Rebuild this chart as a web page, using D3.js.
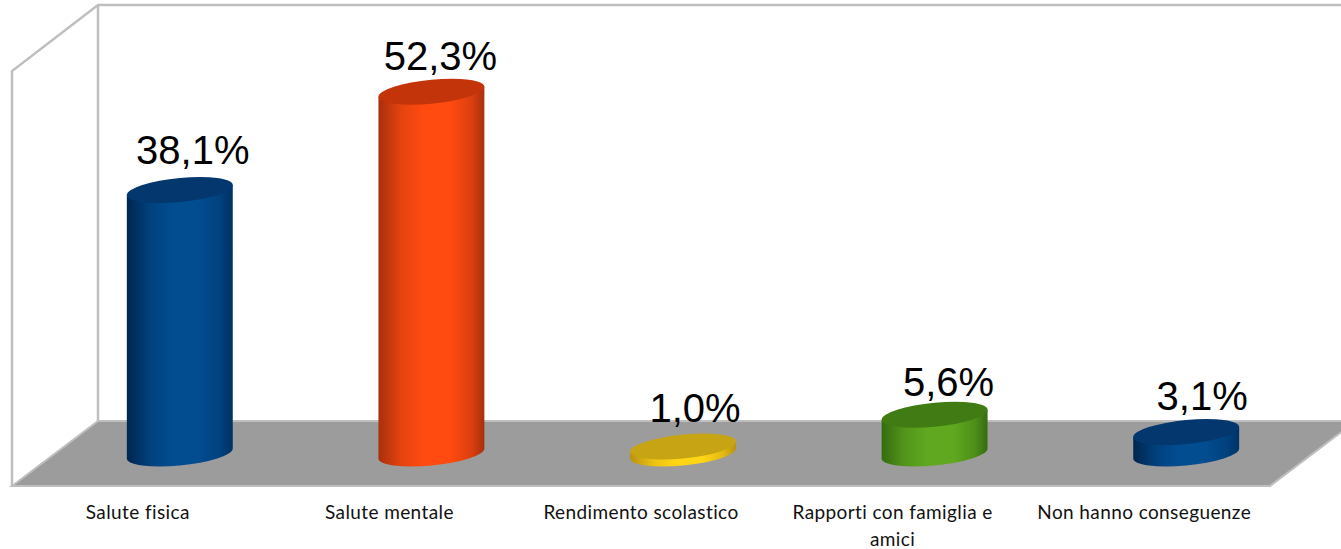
<!DOCTYPE html>
<html>
<head>
<meta charset="utf-8">
<script src="https://cdn.jsdelivr.net/npm/d3@7"></script>
<style>
  html, body { margin: 0; padding: 0; background: #fff; overflow: hidden; }
</style>
</head>
<body>
<div id="chart"></div>
<script>
const categories = ["Salute fisica", "Salute mentale", "Rendimento scolastico", "Rapporti con famiglia e amici", "Non hanno conseguenze"];
const values = [38.1, 52.3, 1.0, 5.6, 3.1];
const colorNames = ["blue", "red", "yellow", "green", "blue2"];

const palette = {
  blue: { edgeL: "#00264f", mid: "#024c90", edgeR: "#003264", top: "#03376d" },
  red: { edgeL: "#a8300c", mid: "#ff4a10", edgeR: "#a8300c", top: "#c3340b" },
  yellow: { edgeL: "#b8920f", mid: "#ffd516", edgeR: "#b8920f", top: "#c6a414" },
  green: { edgeL: "#356b10", mid: "#5fa81f", edgeR: "#356b10", top: "#417b14" },
  blue2: { edgeL: "#00264f", mid: "#024c90", edgeR: "#003264", top: "#03376d" }
};

// hand nudges for the value labels, the original placed them a bit unevenly
const labelDx = [13, 9, 12, 14, 16];
const labelDy = [-26, -22, -25, -19, -22];

function renderCylinderChart(containerSelector) {
  const width = 1341;
  const height = 549;

  // box corners of the fake 3d plot
  const front = { left: 12, right: 1270, top: 71, bottom: 486 };
  const depth = { x: 86, y: 66 };
  const wallColor = "#bfbfbf";

  const svg = d3.select(containerSelector)
    .append("svg")
    .attr("width", width)
    .attr("height", height)
    .style("display", "block");

  const xFront = d3.scaleBand()
    .domain(categories)
    .range([front.left, front.right])
    .paddingInner(0.579)
    .paddingOuter(0.2895);

  const floorY = front.bottom - depth.y / 2 + 0.5;
  const y = d3.scaleLinear().domain([0, 60]).range([floorY, floorY - 415]);

  const defs = svg.append("defs");
  colorNames.forEach(name => {
    const c = palette[name];
    const grad = defs.append("linearGradient").attr("id", "grad-" + name);
    grad.append("stop").attr("offset", "0%").attr("stop-color", c.edgeL);
    grad.append("stop").attr("offset", "22%").attr("stop-color", d3.interpolateLab(c.edgeL, c.mid)(0.72));
    grad.append("stop").attr("offset", "42%").attr("stop-color", c.mid);
    grad.append("stop").attr("offset", "68%").attr("stop-color", c.mid);
    grad.append("stop").attr("offset", "88%").attr("stop-color", d3.interpolateLab(c.edgeR, c.mid)(0.6));
    grad.append("stop").attr("offset", "100%").attr("stop-color", c.edgeR);
  });

  // walls
  const backLeft = front.left + depth.x;
  const backRight = front.right + depth.x;
  const backTop = front.top - depth.y;
  const backBottom = front.bottom - depth.y + 1;

  svg.append("path")
    .attr("d", `M${front.left},${front.bottom} V${front.top} L${backLeft},${backTop} H${backRight + 10}`)
    .attr("fill", "none")
    .attr("stroke", wallColor)
    .attr("stroke-width", 2.5);

  svg.append("line")
    .attr("x1", backLeft).attr("x2", backLeft)
    .attr("y1", backTop).attr("y2", backBottom)
    .attr("stroke", wallColor)
    .attr("stroke-width", 2.5);

  // floor
  svg.append("path")
    .attr("d", `M${front.left},${front.bottom} L${backLeft},${backBottom} H${backRight} L${front.right},${front.bottom} Z`)
    .attr("fill", "#9c9c9c")
    .attr("stroke", wallColor)
    .attr("stroke-width", 2);

  // cylinders, sheared a bit so the ellipses tilt up to the right
  const rx = xFront.bandwidth() / 2;
  const ry = 12;
  const tilt = Math.atan(5 / rx) * 180 / Math.PI;
  const barCenter = i => xFront(categories[i]) + rx + depth.x / 2 - 1;

  const bars = svg.selectAll(".bar")
    .data(values)
    .enter()
    .append("g")
    .attr("class", "bar")
    .attr("transform", (d, i) => `translate(${barCenter(i)},0) skewY(${-tilt})`);

  bars.append("path")
    .attr("d", d => `M${-rx},${y(d)} V${y(0)} A${rx},${ry} 0 0 0 ${rx},${y(0)} V${y(d)} Z`)
    .attr("fill", (d, i) => `url(#grad-${colorNames[i]})`);

  bars.append("ellipse")
    .attr("cx", 0)
    .attr("cy", d => y(d))
    .attr("rx", rx)
    .attr("ry", ry)
    .attr("fill", (d, i) => palette[colorNames[i]].top);

  // value labels
  svg.selectAll(".value")
    .data(values)
    .enter()
    .append("text")
    .attr("class", "value")
    .attr("x", (d, i) => barCenter(i) + labelDx[i])
    .attr("y", (d, i) => y(d) + labelDy[i])
    .attr("text-anchor", "middle")
    .style("font-family", "'Liberation Sans', Arial, sans-serif")
    .style("font-size", "40px")
    .style("fill", "#000")
    .text(d => d.toFixed(1).replace(".", ",") + "%");

  // category axis along the front edge
  const axisBand = xFront.copy().padding(0);
  const axis = svg.append("g")
    .attr("transform", `translate(0,${front.bottom})`)
    .call(d3.axisBottom(axisBand).tickSize(0).tickPadding(20));

  axis.select(".domain").remove();
  axis.selectAll("text")
    .style("font-family", "Lato, 'Open Sans', sans-serif")
    .style("font-size", "19px")
    .style("letter-spacing", "0.4px")
    .style("fill", "#111")
    .call(wrapLabels, 230);
}

function wrapLabels(selection, maxWidth) {
  selection.each(function () {
    const text = d3.select(this);
    const words = text.text().split(" ");
    const yAttr = text.attr("y");
    text.text(null);
    let line = [];
    let lineNo = 0;
    let tspan = text.append("tspan").attr("x", 0).attr("y", yAttr).attr("dy", "0.71em");
    words.forEach(word => {
      line.push(word);
      tspan.text(line.join(" "));
      if (tspan.node().getComputedTextLength() > maxWidth && line.length > 1) {
        line.pop();
        tspan.text(line.join(" "));
        line = [word];
        lineNo += 1;
        tspan = text.append("tspan")
          .attr("x", 0)
          .attr("y", yAttr)
          .attr("dy", `${0.71 + lineNo * 1.37}em`)
          .text(word);
      }
    });
  });
}

renderCylinderChart("#chart");
</script>
</body>
</html>
